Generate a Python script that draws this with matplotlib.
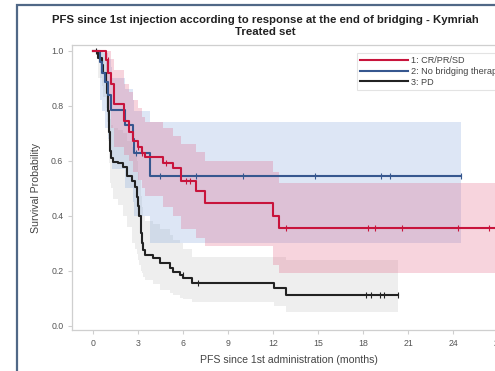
import numpy as np
import matplotlib
matplotlib.use('Agg')
from matplotlib import pyplot as plt
from matplotlib.patches import Rectangle

# group 1: CR/PR/SD (red)
red_t = [0, 0.9, 1.05, 1.2, 1.4, 2.1, 2.4, 2.7, 3.0, 3.25, 3.5, 4.7, 5.35, 5.9, 6.9, 7.5, 12.0, 12.4]
red_s = [1.0, 0.966, 0.92, 0.88, 0.806, 0.742, 0.705, 0.67, 0.65, 0.627, 0.611, 0.59, 0.572, 0.524, 0.49, 0.447, 0.40, 0.354]
red_lo = [1.0, 0.85, 0.78, 0.72, 0.65, 0.62, 0.60, 0.56, 0.53, 0.50, 0.47, 0.43, 0.40, 0.35, 0.32, 0.29, 0.22, 0.19]
red_hi = [1.0, 1.0, 1.0, 0.97, 0.93, 0.88, 0.85, 0.82, 0.79, 0.76, 0.74, 0.72, 0.69, 0.66, 0.63, 0.60, 0.56, 0.52]
red_end = 27.5
red_cens = [1.0, 3.0, 3.3, 4.9, 6.2, 6.5, 12.9, 18.3, 18.8, 20.6, 24.3, 26.4]

# group 2: no bridging therapy (blue)
blue_t = [0, 0.5, 0.6, 0.8, 1.0, 1.2, 1.3, 2.15, 2.7, 2.75, 3.8]
blue_s = [1.0, 0.96, 0.92, 0.887, 0.84, 0.784, 0.784, 0.73, 0.68, 0.627, 0.542]
blue_lo = [1.0, 0.82, 0.78, 0.72, 0.68, 0.62, 0.57, 0.50, 0.45, 0.40, 0.30]
blue_hi = [1.0, 1.0, 1.0, 0.99, 0.97, 0.94, 0.90, 0.86, 0.82, 0.78, 0.74]
blue_end = 24.5
blue_cens = [2.9, 4.5, 6.9, 10.0, 14.8, 19.2, 19.8, 24.5]

# group 3: PD (black)
blk_t = [0, 0.37, 0.6, 0.71, 0.87, 0.93, 1.0, 1.09, 1.15, 1.2, 1.37, 1.7, 2.04, 2.27, 2.6, 2.82,
         2.93, 3.04, 3.1, 3.2, 3.27, 3.37, 3.49, 4.04, 4.5, 5.15, 5.37, 5.82, 6.04, 6.6, 12.1, 12.9]
blk_s = [1.0, 0.973, 0.948, 0.92, 0.887, 0.845, 0.78, 0.705, 0.633, 0.609, 0.596, 0.59, 0.578, 0.542, 0.524, 0.505,
         0.469, 0.433, 0.40, 0.336, 0.30, 0.275, 0.257, 0.245, 0.227, 0.209, 0.196, 0.184, 0.172, 0.154, 0.136, 0.112]
blk_lo = [1.0, 0.90, 0.87, 0.83, 0.79, 0.74, 0.67, 0.59, 0.52, 0.50, 0.46, 0.44, 0.40, 0.36, 0.30, 0.28,
          0.26, 0.24, 0.22, 0.20, 0.19, 0.178, 0.165, 0.15, 0.13, 0.12, 0.11, 0.10, 0.095, 0.087, 0.07, 0.05]
blk_hi = [1.0, 1.0, 1.0, 0.99, 0.97, 0.94, 0.89, 0.82, 0.75, 0.73, 0.72, 0.71, 0.70, 0.67, 0.65, 0.63,
          0.60, 0.56, 0.53, 0.47, 0.43, 0.40, 0.38, 0.37, 0.35, 0.33, 0.31, 0.30, 0.28, 0.25, 0.25, 0.24]
blk_end = 20.3
blk_cens = [0.2, 1.0, 1.1, 3.04, 3.27, 6.0, 7.0, 18.2, 18.5, 19.1, 19.4, 20.3]

labels = ['1: CR/PR/SD', '2: No bridging therapy', '3: PD']
xticks = [0, 3, 6, 9, 12, 15, 18, 21, 24, 27]
yticks = [0.0, 0.2, 0.4, 0.6, 0.8, 1.0]


def extend(t, v, end):
    return np.array(list(t) + [end]), np.array(list(v) + [v[-1]])


def surv_at(t, s, x):
    idx = np.searchsorted(t, x, side='right') - 1
    return np.array(s)[idx]


def draw_group(ax, t, s, lo, hi, end, cens, color, fill, alpha, label):
    tt, lo2 = extend(t, lo, end)
    _, hi2 = extend(t, hi, end)
    ax.fill_between(tt, lo2, hi2, step='post', color=fill, alpha=alpha, linewidth=0)
    tt, ss = extend(t, s, end)
    ax.step(tt, ss, where='post', color=color, linewidth=1.5, label=label)
    ax.plot(cens, surv_at(t, s, cens), linestyle='none', marker='|',
            markersize=4.5, markeredgewidth=0.8, color=color)


def main():
    plt.rcParams['font.family'] = ['Liberation Sans', 'DejaVu Sans']
    fig = plt.figure(figsize=(4.95, 3.71), dpi=100)
    ax = fig.add_axes([0.1448, 0.1092, 0.8768, 0.7695])

    draw_group(ax, blk_t, blk_s, blk_lo, blk_hi, blk_end, blk_cens, '#222222', '#a0a0a0', 0.17, labels[2])
    draw_group(ax, blue_t, blue_s, blue_lo, blue_hi, blue_end, blue_cens, '#36578f', '#7a9fd8', 0.25, labels[1])
    draw_group(ax, red_t, red_s, red_lo, red_hi, red_end, red_cens, '#c8143c', '#e0567a', 0.25, labels[0])

    ax.set_xlim(-1.4, 27.5)
    ax.set_ylim(-0.018, 1.02)
    ax.set_xticks(xticks)
    ax.set_yticks(yticks)
    ax.set_yticklabels(['%.1f' % y for y in yticks])
    for sp in ax.spines.values():
        sp.set_color('#cfcfcf')
        sp.set_linewidth(0.9)
    ax.tick_params(colors='#cfcfcf', labelcolor='#555555', labelsize=6.3, length=3, width=0.8, pad=3)
    ax.set_xlabel('PFS since 1st administration (months)', fontsize=7.6, color='#444444', labelpad=5)
    ax.set_ylabel('Survival Probability', fontsize=7.6, color='#444444', labelpad=7)

    # legend in reference order
    h, l = ax.get_legend_handles_labels()
    order = [l.index(x) for x in labels]
    leg = ax.legend([h[i] for i in order], [l[i] for i in order], loc='upper left',
                    bbox_to_anchor=(0.7206, 0.858), bbox_transform=fig.transFigure,
                    fontsize=6.6, frameon=True, fancybox=False, borderaxespad=0,
                    handlelength=5.2, handletextpad=0.4, labelspacing=0.2, borderpad=0.35)
    leg.get_frame().set_edgecolor('#dddddd')
    leg.get_frame().set_linewidth(0.8)
    for txt in leg.get_texts():
        txt.set_color('#444444')

    fig.text(0.536, 0.947, 'PFS since 1st injection according to response at the end of bridging - Kymriah',
             ha='center', va='center', fontsize=8.2, fontweight='bold', color='#222222')
    fig.text(0.536, 0.913, 'Treated set', ha='center', va='center',
             fontsize=8.2, fontweight='bold', color='#222222')

    # slide frame
    fig.patches.append(Rectangle((17 / 495., -0.1), 1.2, 1 - 5 / 371. + 0.1,
                                 transform=fig.transFigure, fill=False,
                                 edgecolor='#506887', linewidth=1.6))

    fig.savefig('out.png', dpi=100)


if __name__ == '__main__':
    main()
